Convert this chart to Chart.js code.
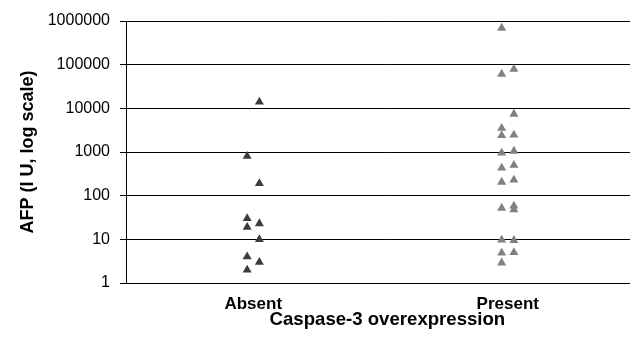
<!DOCTYPE html>
<html>
<head>
<meta charset="utf-8">
<script src="https://cdn.jsdelivr.net/npm/chart.js@4/dist/chart.umd.min.js"></script>
<style>
  html, body { margin: 0; padding: 0; background: #fff; overflow: hidden; }
  #grafico { display: block; }
</style>
</head>
<body>
<!-- o gráfico original parece cortado à direita: canvas mais largo que a janela -->
<canvas id="grafico" width="654" height="337"></canvas>
<script>
// categorias do eixo x
const categorias = ['Absent', 'Present'];

// valores AFP; lado = coluna do ponto (-1 esquerda, 1 direita)
const absentValores = [14000, 800, 190, 30, 19, 23, 10, 4, 2, 3];
const absentLado    = [1, -1, 1, -1, -1, 1, 1, -1, -1, 1];

const presentValores = [690000, 61000, 79000, 7400, 3500, 2400, 2450, 950, 1050, 430, 500, 205, 230, 52, 58, 48, 9.7, 9.5, 4.9, 5, 2.9];
const presentLado    = [-1, -1, 1, 1, -1, -1, 1, -1, 1, -1, 1, -1, 1, -1, 1, 1, -1, 1, -1, 1, -1];

const yTicks = [1, 10, 100, 1000, 10000, 100000, 1000000];

const DESLOC = 0.024; // meia distância entre as duas colunas de pontos

function montarPontos(indice, valores, lados) {
    return valores.map((v, i) => ({ x: indice + lados[i] * DESLOC, y: v }));
}

const fonte = 'Liberation Sans, Arial, sans-serif';

new Chart(document.getElementById('grafico').getContext('2d'), {
    type: 'scatter',
    data: {
        datasets: [
            {
                label: 'Absent',
                data: montarPontos(0, absentValores, absentLado),
                pointStyle: 'triangle',
                pointRadius: 5.2,
                backgroundColor: '#3c3c3c',
                borderColor: '#3c3c3c',
                borderWidth: 0
            },
            {
                label: 'Present',
                data: montarPontos(1, presentValores, presentLado),
                pointStyle: 'triangle',
                pointRadius: 5.2,
                backgroundColor: '#808080',
                borderColor: '#808080',
                borderWidth: 0
            }
        ]
    },
    options: {
        responsive: false,
        animation: false,
        layout: { padding: { top: 21, right: 0, bottom: 0, left: 0 } },
        plugins: {
            legend: { display: false },
            tooltip: { enabled: false }
        },
        scales: {
            x: {
                type: 'linear',
                min: -0.5,
                max: 1.554,
                afterBuildTicks: (escala) => {
                    escala.ticks = categorias.map((c, i) => ({ value: i }));
                },
                afterFit: (escala) => { escala.height = 54; },
                grid: { display: false, drawTicks: false },
                border: { display: true, color: '#000', width: 1 },
                ticks: {
                    padding: 11,
                    color: '#000',
                    font: { family: fonte, size: 17, weight: 'bold' },
                    callback: (v) => categorias[v]
                },
                title: {
                    display: true,
                    text: 'Caspase-3 overexpression',
                    color: '#000',
                    font: { family: fonte, size: 18.6, weight: 'bold' },
                    padding: { top: 0, bottom: 6 }
                }
            },
            y: {
                type: 'logarithmic',
                min: 1,
                max: 1000000,
                afterBuildTicks: (escala) => {
                    escala.ticks = yTicks.map(v => ({ value: v }));
                },
                afterFit: (escala) => { escala.width = 126; },
                grid: {
                    color: '#000',
                    lineWidth: 1,
                    drawTicks: true,
                    tickLength: 6
                },
                border: { display: true, color: '#000', width: 1 },
                ticks: {
                    padding: 10,
                    color: '#000',
                    font: { family: fonte, size: 16 },
                    callback: (v) => String(v)
                },
                title: {
                    display: true,
                    text: 'AFP (I U, log scale)',
                    color: '#000',
                    font: { family: fonte, size: 18, weight: 'bold' },
                    padding: { top: 17, bottom: 0 }
                }
            }
        }
    }
});
</script>
</body>
</html>
